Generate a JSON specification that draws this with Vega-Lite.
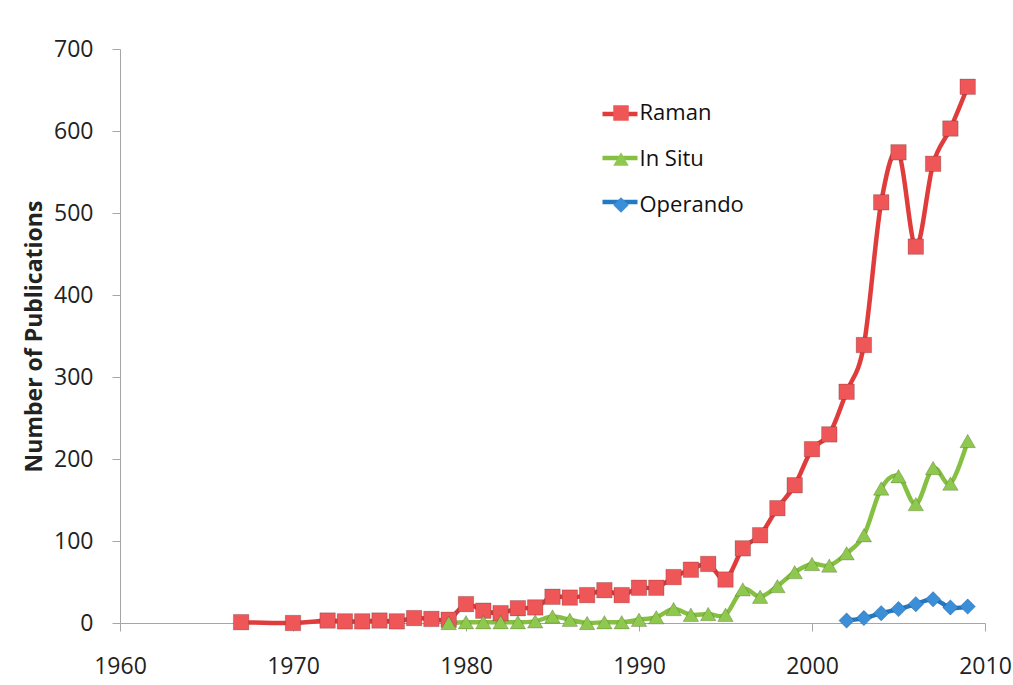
{
  "$schema": "https://vega.github.io/schema/vega-lite/v6.json",
  "width": 865,
  "height": 574,
  "autosize": {"type": "none"},
  "padding": {"left": 120, "top": 49, "right": 28, "bottom": 62},
  "background": "white",
  "config": {
    "view": {"stroke": null},
    "font": "Open Sans",
    "axis": {
      "grid": false,
      "domainColor": "#a6a6a6",
      "tickColor": "#a6a6a6",
      "tickSize": 8,
      "labelFont": "Open Sans",
      "labelFontSize": 23,
      "labelColor": "#222222",
      "titleFont": "Open Sans",
      "titleColor": "#222222"
    }
  },
  "data": {
    "values": [
      {"year": 1967, "series": "Raman", "count": 1},
      {"year": 1970, "series": "Raman", "count": 0},
      {"year": 1972, "series": "Raman", "count": 3},
      {"year": 1973, "series": "Raman", "count": 2},
      {"year": 1974, "series": "Raman", "count": 2},
      {"year": 1975, "series": "Raman", "count": 3},
      {"year": 1976, "series": "Raman", "count": 2},
      {"year": 1977, "series": "Raman", "count": 6},
      {"year": 1978, "series": "Raman", "count": 5},
      {"year": 1979, "series": "Raman", "count": 4},
      {"year": 1980, "series": "Raman", "count": 23},
      {"year": 1981, "series": "Raman", "count": 15},
      {"year": 1982, "series": "Raman", "count": 12},
      {"year": 1983, "series": "Raman", "count": 18},
      {"year": 1984, "series": "Raman", "count": 19},
      {"year": 1985, "series": "Raman", "count": 32},
      {"year": 1986, "series": "Raman", "count": 31},
      {"year": 1987, "series": "Raman", "count": 34},
      {"year": 1988, "series": "Raman", "count": 40},
      {"year": 1989, "series": "Raman", "count": 34},
      {"year": 1990, "series": "Raman", "count": 43},
      {"year": 1991, "series": "Raman", "count": 43},
      {"year": 1992, "series": "Raman", "count": 56},
      {"year": 1993, "series": "Raman", "count": 65},
      {"year": 1994, "series": "Raman", "count": 72},
      {"year": 1995, "series": "Raman", "count": 53},
      {"year": 1996, "series": "Raman", "count": 91},
      {"year": 1997, "series": "Raman", "count": 107},
      {"year": 1998, "series": "Raman", "count": 140},
      {"year": 1999, "series": "Raman", "count": 168},
      {"year": 2000, "series": "Raman", "count": 212},
      {"year": 2001, "series": "Raman", "count": 230},
      {"year": 2002, "series": "Raman", "count": 282},
      {"year": 2003, "series": "Raman", "count": 339},
      {"year": 2004, "series": "Raman", "count": 513},
      {"year": 2005, "series": "Raman", "count": 574},
      {"year": 2006, "series": "Raman", "count": 459},
      {"year": 2007, "series": "Raman", "count": 560},
      {"year": 2008, "series": "Raman", "count": 603},
      {"year": 2009, "series": "Raman", "count": 654},
      {"year": 1979, "series": "In Situ", "count": 0},
      {"year": 1980, "series": "In Situ", "count": 1},
      {"year": 1981, "series": "In Situ", "count": 1},
      {"year": 1982, "series": "In Situ", "count": 1},
      {"year": 1983, "series": "In Situ", "count": 1},
      {"year": 1984, "series": "In Situ", "count": 2},
      {"year": 1985, "series": "In Situ", "count": 8},
      {"year": 1986, "series": "In Situ", "count": 4},
      {"year": 1987, "series": "In Situ", "count": 0},
      {"year": 1988, "series": "In Situ", "count": 1},
      {"year": 1989, "series": "In Situ", "count": 1},
      {"year": 1990, "series": "In Situ", "count": 4},
      {"year": 1991, "series": "In Situ", "count": 7},
      {"year": 1992, "series": "In Situ", "count": 17},
      {"year": 1993, "series": "In Situ", "count": 10},
      {"year": 1994, "series": "In Situ", "count": 11},
      {"year": 1995, "series": "In Situ", "count": 10},
      {"year": 1996, "series": "In Situ", "count": 41},
      {"year": 1997, "series": "In Situ", "count": 32},
      {"year": 1998, "series": "In Situ", "count": 45},
      {"year": 1999, "series": "In Situ", "count": 62},
      {"year": 2000, "series": "In Situ", "count": 72},
      {"year": 2001, "series": "In Situ", "count": 70},
      {"year": 2002, "series": "In Situ", "count": 85},
      {"year": 2003, "series": "In Situ", "count": 107},
      {"year": 2004, "series": "In Situ", "count": 164},
      {"year": 2005, "series": "In Situ", "count": 179},
      {"year": 2006, "series": "In Situ", "count": 145},
      {"year": 2007, "series": "In Situ", "count": 189},
      {"year": 2008, "series": "In Situ", "count": 170},
      {"year": 2009, "series": "In Situ", "count": 222},
      {"year": 2002, "series": "Operando", "count": 3},
      {"year": 2003, "series": "Operando", "count": 6},
      {"year": 2004, "series": "Operando", "count": 12},
      {"year": 2005, "series": "Operando", "count": 17},
      {"year": 2006, "series": "Operando", "count": 23},
      {"year": 2007, "series": "Operando", "count": 29},
      {"year": 2008, "series": "Operando", "count": 19},
      {"year": 2009, "series": "Operando", "count": 20}
    ]
  },
  "encoding": {
    "x": {
      "field": "year",
      "type": "quantitative",
      "scale": {"domain": [1960, 2010], "nice": false, "zero": false},
      "axis": {"values": [1960, 1970, 1980, 1990, 2000, 2010], "format": "d", "title": null, "labelPadding": 24, "labelFlush": false}
    },
    "y": {
      "field": "count",
      "type": "quantitative",
      "scale": {"domain": [0, 700], "nice": false},
      "axis": {"values": [0, 100, 200, 300, 400, 500, 600, 700], "title": "Number of Publications", "titleFontSize": 23, "titleFontWeight": "bold", "labelPadding": 19, "titlePadding": 7}
    }
  },
  "layer": [
    {
      "mark": {"type": "line", "interpolate": "cardinal", "tension": 0, "strokeWidth": 4.5},
      "encoding": {
        "stroke": {
          "field": "series",
          "type": "nominal",
          "sort": ["Raman", "In Situ", "Operando"],
          "scale": {"range": ["#e03c3c", "#86c043", "#2479c4"]},
          "legend": {
            "orient": "none",
            "legendX": 480,
            "legendY": 45,
            "title": null,
            "symbolType": "stroke",
            "symbolSize": 1225,
            "symbolStrokeWidth": 4.5,
            "labelExpr": "''",
            "labelFontSize": 20,
            "rowPadding": 14,
            "padding": 0
          }
        }
      }
    },
    {
      "mark": {"type": "point", "filled": true, "size": 240, "stroke": "#000000", "strokeOpacity": 0.18, "strokeWidth": 1, "opacity": 1},
      "encoding": {
        "fill": {
          "field": "series",
          "type": "nominal",
          "scale": {"domain": ["Raman", "In Situ", "Operando"], "range": ["#ee5658", "#8fc84f", "#3b8ed8"]},
          "legend": {
            "orient": "none",
            "legendX": 490,
            "legendY": 53,
            "title": null,
            "symbolSize": 240,
            "symbolStrokeWidth": 0,
            "labelFontSize": 22,
            "labelColor": "#111111",
            "labelOffset": 7.5,
            "rowPadding": 24,
            "padding": 0
          }
        },
        "shape": {
          "field": "series",
          "type": "nominal",
          "scale": {"domain": ["Raman", "In Situ", "Operando"], "range": ["square", "triangle-up", "diamond"]},
          "legend": {
            "orient": "none",
            "legendX": 490,
            "legendY": 53,
            "title": null,
            "symbolSize": 240,
            "symbolStrokeWidth": 0,
            "labelFontSize": 22,
            "labelColor": "#111111",
            "labelOffset": 7.5,
            "rowPadding": 24,
            "padding": 0
          }
        }
      }
    }
  ]
}
